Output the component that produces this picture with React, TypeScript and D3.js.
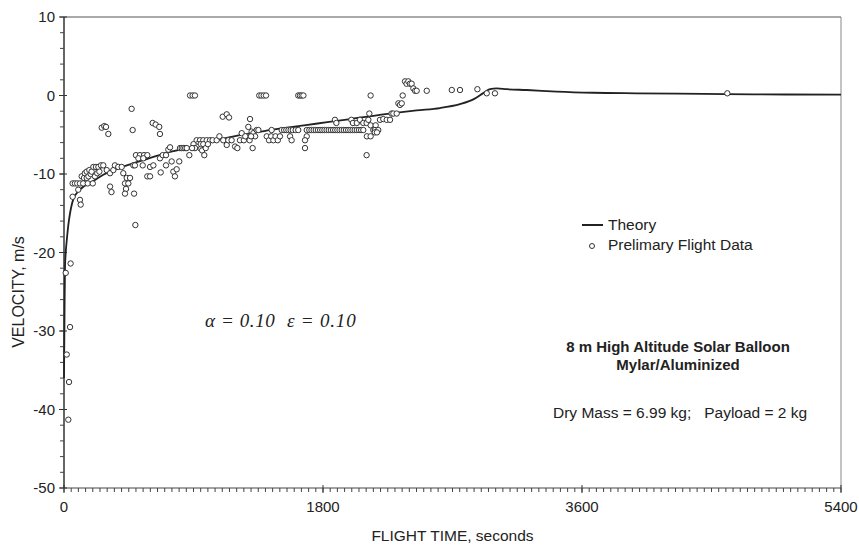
import React from 'react';
import * as d3 from 'd3';

// theory curve [seconds, m/s]
const theoryTime = [0, 4, 7, 12, 19, 30, 42, 65, 111, 204, 273, 343, 436, 575, 714, 853, 992, 1131, 1270, 1400, 1550, 1750, 1990, 2220, 2450, 2613, 2752, 2845, 2914, 2961, 3007, 3077, 3216, 3424, 3679, 3980, 4443, 4790, 5400];
const theoryVel = [-36, -27, -22, -20, -18.5, -16.5, -15, -13.2, -12, -10.9, -10.1, -9.5, -8.9, -8.1, -7.3, -6.7, -6.1, -5.4, -4.9, -4.5, -4.1, -3.6, -3, -2.4, -1.9, -1.6, -1.1, -0.5, 0.3, 0.8, 0.9, 0.8, 0.7, 0.5, 0.35, 0.28, 0.2, 0.15, 0.1];

// preliminary flight data [seconds, m/s]
const flightData: [number, number][] = [
  [12, -22.6], [46, -21.4], [42, -29.5], [19, -33.0], [35, -36.5], [30, -41.3],
  [60, -11.2], [76, -11.2], [92, -11.2], [111, -11.2], [60, -12.9], [99, -12.0], [111, -13.3], [116, -13.9], [123, -10.3], [139, -10.5], [133, -11.2],
  [145, -9.9], [158, -9.7], [158, -10.5], [170, -10.3], [176, -9.5], [185, -10.0], [192, -9.7], [204, -9.1], [215, -10.3], [222, -9.1], [231, -9.9], [239, -9.1], [246, -9.7], [257, -8.9], [165, -11.2], [200, -11.2],
  [262, -4.1], [280, -3.9], [292, -4.0], [308, -4.9],
  [273, -8.9], [297, -9.5], [320, -9.9], [343, -9.5], [354, -8.9], [377, -9.1], [401, -9.1], [412, -9.9], [436, -10.5], [459, -10.5], [424, -11.2], [447, -11.2], [431, -11.9], [424, -12.5], [487, -12.5], [320, -11.6], [330, -12.3], [482, -8.9], [470, -1.7], [477, -4.4], [496, -16.5],
  [500, -7.6], [528, -7.6], [556, -7.6], [579, -7.6], [517, -8.0], [551, -8.0], [493, -8.9], [547, -8.9], [598, -9.1], [579, -10.3], [598, -10.3], [621, -8.9], [667, -8.0], [686, -7.6], [709, -7.6], [725, -6.9], [737, -6.6], [672, -9.8], [709, -8.9], [760, -9.7], [771, -10.3], [783, -9.4], [801, -8.4], [748, -8.4], [616, -3.5], [637, -3.7], [662, -4.0], [667, -4.9],
  [806, -6.7], [818, -6.7], [830, -6.7], [842, -6.7], [853, -6.7], [871, -7.6], [876, 0], [894, 0], [910, 0], [922, -5.7], [945, -5.7], [968, -5.7], [992, -5.7], [1015, -5.7], [930, -6.2], [945, -6.7], [960, -7.0], [975, -7.6], [950, -6.2], [968, -6.2], [920, -6.5], [985, -6.7], [1000, -6.2], [900, -6.2], [910, -6.7], [890, -6.7],
  [1033, -5.7], [1061, -5.7], [1080, -5.2], [1107, -5.7], [1131, -6.3], [1142, -5.7], [1165, -5.7], [1189, -6.5], [1205, -6.7], [1223, -5.7], [1235, -4.8], [1270, -5.2], [1281, -4.0], [1293, -3.0], [1304, -4.6], [1316, -4.8], [1328, -5.2], [1339, -4.4], [1351, -4.4], [1103, -2.7], [1131, -2.4], [1147, -2.8], [1311, -6.7], [1250, -5.7], [1260, -5.2], [1290, -5.7], [1300, -5.2],
  [1357, 0], [1372, 0], [1388, 0], [1404, 0],
  [1409, -5.2], [1425, -5.7], [1440, -5.2], [1455, -5.7], [1470, -5.2], [1486, -5.7], [1501, -5.2], [1443, -4.4], [1513, -4.4], [1530, -4.4], [1545, -4.4], [1560, -4.4], [1575, -4.4], [1590, -4.4], [1610, -4.4], [1628, -4.4], [1571, -5.2], [1582, -5.7], [1687, -5.2], [1675, -5.7], [1675, -6.7],
  [1628, 0], [1640, 0], [1652, 0], [1664, 0],
  [1687, -4.4], [1705, -4.4], [1720, -4.4], [1735, -4.4], [1750, -4.4], [1765, -4.4], [1780, -4.4], [1795, -4.4], [1810, -4.4], [1825, -4.4], [1840, -4.4], [1855, -4.4], [1870, -4.4], [1885, -4.4], [1900, -4.4], [1915, -4.4], [1930, -4.4], [1945, -4.4], [1960, -4.4], [1975, -4.4], [1990, -4.4], [2005, -4.4], [2020, -4.4], [2035, -4.4], [2050, -4.4], [2065, -4.4], [2080, -4.4],
  [1883, -3.1], [1893, -3.5], [1997, -3.1], [2008, -3.5], [2035, -3.5], [2057, -3.1], [2080, -3.5], [2103, -3.5], [2115, -3.1],
  [2103, -7.6], [2131, 0], [2105, -5.2], [2131, -5.2], [2131, -3.8], [2166, -3.8], [2122, -2.3],
  [2150, -4.4], [2161, -4.4], [2184, -4.4], [2196, -3.1], [2219, -3.0], [2243, -3.1], [2266, -3.1], [2277, -2.3], [2289, -2.3], [2312, -2.3], [2160, -4.7], [2175, -4.7],
  [2324, -1.0], [2335, -1.2], [2347, -1.0], [2354, 0],
  [2370, 1.8], [2381, 1.5], [2393, 1.8], [2404, 1.5], [2416, 1.5], [2428, 0.9], [2440, 0.6], [2451, 0.6], [2521, 0.6],
  [2695, 0.7], [2752, 0.7], [2873, 0.8], [2938, 0.28], [2995, 0.28], [4610, 0.28],
];

const xMajor = [0, 1800, 3600, 5400];
const yMajor = [10, 0, -10, -20, -30, -40, -50];
const xMinorStep = 50;
const yMinorStep = 2;

const W = 859;
const H = 551;
const margin = { top: 17, right: 18, bottom: 63, left: 64 };

export default function App() {
  const x = d3.scaleLinear().domain([0, 5400]).range([margin.left, W - margin.right]);
  const y = d3.scaleLinear().domain([-50, 10]).range([H - margin.bottom, margin.top]);

  const theory = theoryTime.map((t, i) => [t, theoryVel[i]] as [number, number]);
  const line = d3.line<[number, number]>()
    .x(d => x(d[0]))
    .y(d => y(d[1]))
    .curve(d3.curveMonotoneX);

  const xMinor = d3.range(0, 5400 + 1, xMinorStep);
  const yMinor = d3.range(-50, 10 + 0.001, yMinorStep);

  const [x0, x1] = x.range();
  const [y0, y1] = y.range();
  const font = '"Liberation Sans", Arial, sans-serif';
  const serif = '"Liberation Serif", "Times New Roman", serif';
  const ink = '#222';

  return (
    <svg width={W} height={H} style={{ position: 'absolute', left: 0, top: 0, background: '#fff' }} fontFamily={font}>
      {/* frame */}
      <line x1={x0} x2={x1} y1={y1} y2={y1} stroke="#555" strokeWidth={1} />
      <line x1={x1} x2={x1} y1={y1} y2={y0} stroke="#888" strokeWidth={1} />
      <line x1={x0} x2={x1} y1={y0} y2={y0} stroke="#444" strokeWidth={1} />
      <line x1={x0} x2={x0} y1={y1} y2={y0} stroke="#333" strokeWidth={1.5} />

      {/* y ticks */}
      {yMinor.map(v => (
        <line key={'ym' + v} x1={x0 - 4} x2={x0} y1={y(v)} y2={y(v)} stroke="#444" />
      ))}
      {yMajor.map(v => (
        <g key={'y' + v}>
          <line x1={x0 - 5} x2={x0 + 3} y1={y(v)} y2={y(v)} stroke="#333" />
          <text x={x0 - 9} y={y(v)} dy="0.35em" textAnchor="end" fontSize={15} fill={ink}>{v}</text>
        </g>
      ))}

      {/* x ticks */}
      {xMinor.map(t => (
        <line key={'xm' + t} x1={x(t)} x2={x(t)} y1={y0} y2={y0 + 4} stroke="#444" />
      ))}
      {xMajor.map(t => (
        <g key={'x' + t}>
          <line x1={x(t)} x2={x(t)} y1={y0 - 3} y2={y0 + 5} stroke="#333" />
          <text x={x(t)} y={y0 + 24} textAnchor="middle" fontSize={15} fill={ink}>{t}</text>
        </g>
      ))}

      {/* axis titles */}
      <text x={(x0 + x1) / 2} y={H - 10} textAnchor="middle" fontSize={15.5} fill={ink}>FLIGHT TIME, seconds</text>
      <text transform="translate(24,292) rotate(-90)" textAnchor="middle" fontSize={16} fill={ink}>VELOCITY, m/s</text>

      {/* theory */}
      <path d={line(theory) || ''} fill="none" stroke={ink} strokeWidth={1.8} />

      {/* flight data */}
      {flightData.map((d, i) => (
        <circle key={i} cx={x(d[0])} cy={y(d[1])} r={2.7} fill="#fff" stroke="#333" strokeWidth={1} />
      ))}

      {/* legend */}
      <line x1={582} x2={603} y1={225} y2={225} stroke={ink} strokeWidth={2} />
      <text x={608} y={225} dy="0.35em" fontSize={15.5} fill={ink}>Theory</text>
      <circle cx={592} cy={246} r={2.5} fill="#fff" stroke="#333" />
      <text x={608} y={245} dy="0.35em" fontSize={15.5} fill={ink}>Prelimary Flight Data</text>

      {/* annotations */}
      <text x={205} y={327} fontSize={19} fontStyle="italic" fontFamily={serif} letterSpacing={0.6} fill={ink}>α = 0.10</text>
      <text x={287} y={327} fontSize={19} fontStyle="italic" fontFamily={serif} letterSpacing={0.8} fill={ink}>ε = 0.10</text>

      <text x={678} y={352} textAnchor="middle" fontSize={15} fontWeight="bold" fill={ink}>8 m High Altitude Solar Balloon</text>
      <text x={678} y={370} textAnchor="middle" fontSize={15} fontWeight="bold" fill={ink}>Mylar/Aluminized</text>
      <text x={553} y={418} fontSize={15.5} fill={ink} style={{ whiteSpace: 'pre' }}>{'Dry Mass = 6.99 kg;   Payload = 2 kg'}</text>
    </svg>
  );
}
